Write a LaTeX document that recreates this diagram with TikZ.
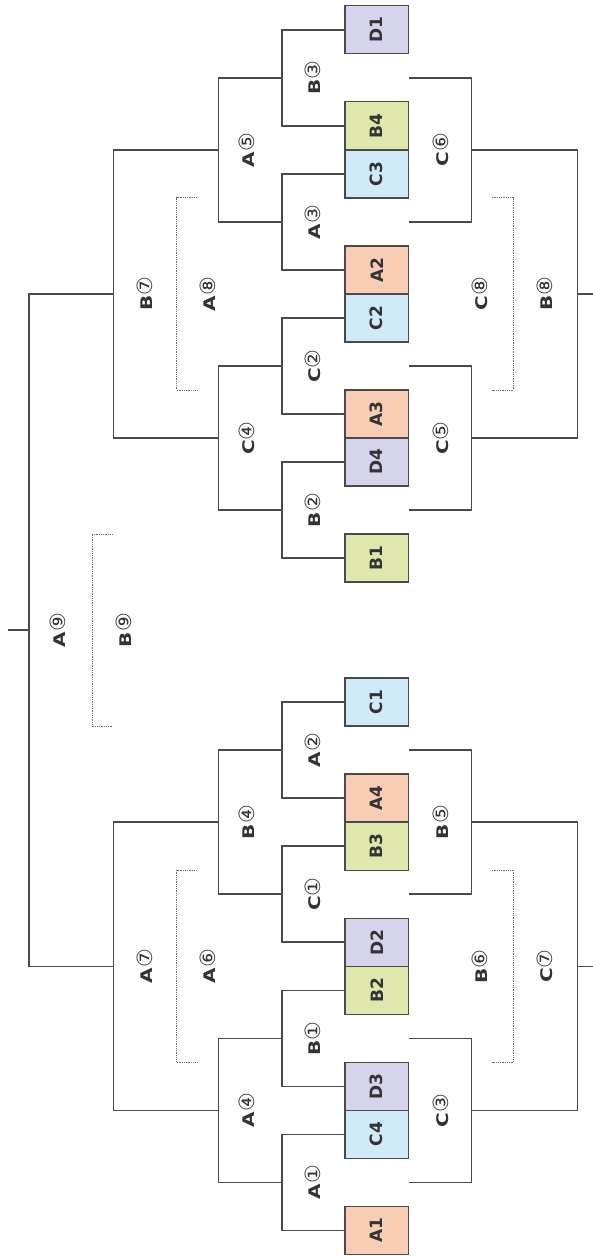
\documentclass[tikz,border=0pt]{standalone}
\usepackage{fontspec}
\usepackage{graphicx}
\setmainfont{DejaVu Sans}
\newfontfamily\circf{DejaVu Sans}
\definecolor{cA}{HTML}{F9CDB4}
\definecolor{cB}{HTML}{DFE8AA}
\definecolor{cC}{HTML}{CFEAF8}
\definecolor{cD}{HTML}{D5D4EC}
\definecolor{ln}{HTML}{4A4A4A}
\definecolor{txt}{HTML}{333333}
\newcommand\tlab[2]{\scalebox{1.25}[1]{\bfseries #1}{\circf\mdseries\fontsize{21}{21}\selectfont #2}}
\begin{document}
\begin{tikzpicture}[x=1pt,y=-48.02pt,
  team/.style={draw=ln, line width=1.3pt, minimum width=63.5pt, minimum height=48.02pt,
    inner sep=0pt, font=\fontsize{17}{17}\selectfont\bfseries, text=txt},
  lbl/.style={rotate=90, inner sep=0pt, font=\fontsize{16}{16}\selectfont, text=txt},
  br/.style={draw=ln, line width=1.4pt},
  dotl/.style={draw=ln!80, line width=0.9pt, dash pattern=on 0.9pt off 0.9pt}]
\useasboundingbox (0,-0.6206) rectangle (593,25.535);
% team boxes
\foreach \n/\k/\c in {D1/0/cD, B4/2/cB, C3/3/cC, A2/5/cA, C2/6/cC, A3/8/cA, D4/9/cD, B1/11/cB,
  C1/14/cC, A4/16/cA, B3/17/cB, D2/19/cD, B2/20/cB, D3/22/cD, C4/23/cC, A1/25/cA}
  \node[team, fill=\c] (\n) at (376.75,\k) {\rotatebox{90}{\n}};
% junctions, left side
\coordinate (jB3) at (281.8,1);
\coordinate (jA3) at (281.8,4);
\coordinate (jC2) at (281.8,7);
\coordinate (jB2) at (281.8,10);
\coordinate (jA2) at (281.8,15);
\coordinate (jC1) at (281.8,18);
\coordinate (jB1) at (281.8,21);
\coordinate (jA1) at (281.8,24);
\coordinate (jA5) at (218.2,2.5);
\coordinate (jC4) at (218.2,8.5);
\coordinate (jB4) at (218.2,16.5);
\coordinate (jA4) at (218.2,22.5);
\coordinate (jB7) at (113.5,5.5);
\coordinate (jA7) at (113.5,19.5);
\coordinate (jA9) at (29,12.5);
\coordinate (eA9) at (8,12.5);
% level 1
\draw[br] (D1.west) -| (jB3) |- (B4.west);
\draw[br] (C3.west) -| (jA3) |- (A2.west);
\draw[br] (C2.west) -| (jC2) |- (A3.west);
\draw[br] (D4.west) -| (jB2) |- (B1.west);
\draw[br] (C1.west) -| (jA2) |- (A4.west);
\draw[br] (B3.west) -| (jC1) |- (D2.west);
\draw[br] (B2.west) -| (jB1) |- (D3.west);
\draw[br] (C4.west) -| (jA1) |- (A1.west);
% level 2
\draw[br] (jB3) -| (jA5) |- (jA3);
\draw[br] (jC2) -| (jC4) |- (jB2);
\draw[br] (jA2) -| (jB4) |- (jC1);
\draw[br] (jB1) -| (jA4) |- (jA1);
% level 3
\draw[br] (jA5) -| (jB7) |- (jC4);
\draw[br] (jB4) -| (jA7) |- (jA4);
% final
\draw[br] (jB7) -| (jA9) |- (jA7);
\draw[br] (jA9) -- (eA9);
% right side
\coordinate (c6a) at (408.5,1);   \coordinate (c6b) at (408.5,4);
\coordinate (c5a) at (408.5,7);   \coordinate (c5b) at (408.5,10);
\coordinate (b5a) at (408.5,15);  \coordinate (b5b) at (408.5,18);
\coordinate (c3a) at (408.5,21);  \coordinate (c3b) at (408.5,24);
\coordinate (rC6) at (471.6,2.5);
\coordinate (rC5) at (471.6,8.5);
\coordinate (rB5) at (471.6,16.5);
\coordinate (rC3) at (471.6,22.5);
\coordinate (rB8) at (577.5,5.5);
\coordinate (rC7) at (577.5,19.5);
\coordinate (eB8) at (595,5.5);
\coordinate (eC7) at (595,19.5);
\draw[br] (c6a) -| (rC6) |- (c6b);
\draw[br] (c5a) -| (rC5) |- (c5b);
\draw[br] (b5a) -| (rB5) |- (b5b);
\draw[br] (c3a) -| (rC3) |- (c3b);
\draw[br] (rC6) -| (rB8) |- (rC5);
\draw[br] (rB5) -| (rC7) |- (rC3);
\draw[br] (rB8) -- (eB8);
\draw[br] (rC7) -- (eC7);
% dotted brackets
\coordinate (a8a) at (196.7,3.5); \coordinate (a8b) at (196.7,7.5);
\coordinate (a6a) at (196.7,17.5); \coordinate (a6b) at (196.7,21.5);
\coordinate (c8a) at (491.7,3.5); \coordinate (c8b) at (491.7,7.5);
\coordinate (b6a) at (491.7,17.5); \coordinate (b6b) at (491.7,21.5);
\coordinate (b9a) at (112.7,10.5); \coordinate (b9b) at (112.7,14.5);
\draw[dotl] (a8a) -- ++(-20.1,0) -- ++(0,4) -- (a8b);
\draw[dotl] (a6a) -- ++(-20.1,0) -- ++(0,4) -- (a6b);
\draw[dotl] (c8a) -- ++(21.9,0) -- ++(0,4) -- (c8b);
\draw[dotl] (b6a) -- ++(21.9,0) -- ++(0,4) -- (b6b);
\draw[dotl] (b9a) -- ++(-20.7,0) -- ++(0,4) -- (b9b);
% labels
\node[lbl] (lB3) at (313,1) {\tlab{B}{③}};
\node[lbl] (lA3) at (313,4) {\tlab{A}{③}};
\node[lbl] (lC2) at (313,7) {\tlab{C}{②}};
\node[lbl] (lB2) at (313,10) {\tlab{B}{②}};
\node[lbl] (lA2) at (313,15) {\tlab{A}{②}};
\node[lbl] (lC1) at (313,18) {\tlab{C}{①}};
\node[lbl] (lB1) at (313,21) {\tlab{B}{①}};
\node[lbl] (lA1) at (313,24) {\tlab{A}{①}};
\node[lbl] (lA5) at (246.5,2.5) {\tlab{A}{⑤}};
\node[lbl] (lC4) at (246.5,8.5) {\tlab{C}{④}};
\node[lbl] (lB4) at (246.5,16.5) {\tlab{B}{④}};
\node[lbl] (lA4) at (246.5,22.5) {\tlab{A}{④}};
\node[lbl] (lC6) at (440.6,2.5) {\tlab{C}{⑥}};
\node[lbl] (lC5) at (440.6,8.5) {\tlab{C}{⑤}};
\node[lbl] (lB5) at (440.6,16.5) {\tlab{B}{⑤}};
\node[lbl] (lC3) at (440.6,22.5) {\tlab{C}{③}};
\node[lbl] (lB7) at (145,5.5) {\tlab{B}{⑦}};
\node[lbl] (lA7) at (145,19.5) {\tlab{A}{⑦}};
\node[lbl] (lA8) at (208,5.5) {\tlab{A}{⑧}};
\node[lbl] (lA6) at (208,19.5) {\tlab{A}{⑥}};
\node[lbl] (lC8) at (480.3,5.5) {\tlab{C}{⑧}};
\node[lbl] (lB6) at (480.3,19.5) {\tlab{B}{⑥}};
\node[lbl] (lB8) at (545,5.5) {\tlab{B}{⑧}};
\node[lbl] (lC7) at (545,19.5) {\tlab{C}{⑦}};
\node[lbl] (lA9) at (58,12.5) {\tlab{A}{⑨}};
\node[lbl] (lB9) at (123.7,12.5) {\tlab{B}{⑨}};
\end{tikzpicture}
\end{document}
